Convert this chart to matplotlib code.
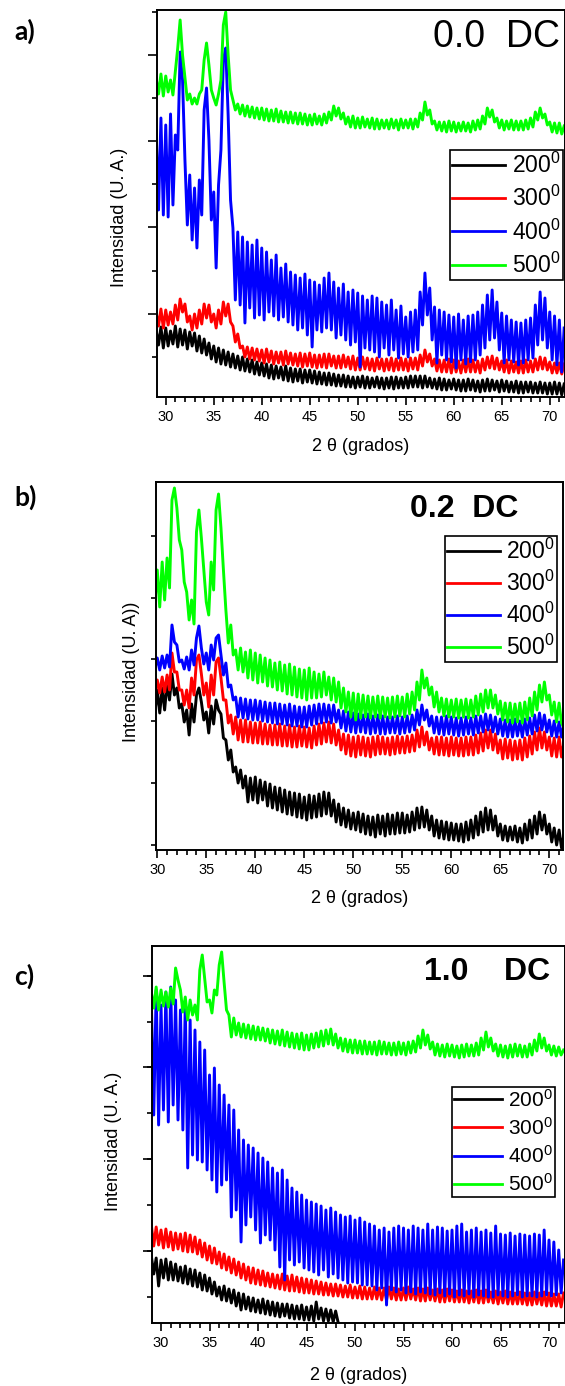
import matplotlib
matplotlib.use('Agg')
import matplotlib.pyplot as plt
from matplotlib.ticker import MultipleLocator

plt.rcParams['font.family'] = ['Liberation Sans', 'DejaVu Sans']
plt.rcParams['mathtext.fontset'] = 'custom'
plt.rcParams['mathtext.rm'] = 'Liberation Sans'
plt.rcParams['mathtext.it'] = 'Liberation Sans:italic'
plt.rcParams['mathtext.bf'] = 'Liberation Sans:bold'

# ---------------- data: 2theta (degrees) and intensity (arbitrary units) ----------------
two_theta = [
    29.0, 29.25, 29.5, 29.75, 30.0, 30.25, 30.5, 30.75, 31.0, 31.25, 31.5, 31.75,
    32.0, 32.25, 32.5, 32.75, 33.0, 33.25, 33.5, 33.75, 34.0, 34.25, 34.5, 34.75,
    35.0, 35.25, 35.5, 35.75, 36.0, 36.25, 36.5, 36.75, 37.0, 37.25, 37.5, 37.75,
    38.0, 38.25, 38.5, 38.75, 39.0, 39.25, 39.5, 39.75, 40.0, 40.25, 40.5, 40.75,
    41.0, 41.25, 41.5, 41.75, 42.0, 42.25, 42.5, 42.75, 43.0, 43.25, 43.5, 43.75,
    44.0, 44.25, 44.5, 44.75, 45.0, 45.25, 45.5, 45.75, 46.0, 46.25, 46.5, 46.75,
    47.0, 47.25, 47.5, 47.75, 48.0, 48.25, 48.5, 48.75, 49.0, 49.25, 49.5, 49.75,
    50.0, 50.25, 50.5, 50.75, 51.0, 51.25, 51.5, 51.75, 52.0, 52.25, 52.5, 52.75,
    53.0, 53.25, 53.5, 53.75, 54.0, 54.25, 54.5, 54.75, 55.0, 55.25, 55.5, 55.75,
    56.0, 56.25, 56.5, 56.75, 57.0, 57.25, 57.5, 57.75, 58.0, 58.25, 58.5, 58.75,
    59.0, 59.25, 59.5, 59.75, 60.0, 60.25, 60.5, 60.75, 61.0, 61.25, 61.5, 61.75,
    62.0, 62.25, 62.5, 62.75, 63.0, 63.25, 63.5, 63.75, 64.0, 64.25, 64.5, 64.75,
    65.0, 65.25, 65.5, 65.75, 66.0, 66.25, 66.5, 66.75, 67.0, 67.25, 67.5, 67.75,
    68.0, 68.25, 68.5, 68.75, 69.0, 69.25, 69.5, 69.75, 70.0, 70.25, 70.5, 70.75,
    71.0, 71.25, 71.5]

temperatures = ['200', '300', '400', '500']
series_colors = ['#000000', '#ff0000', '#0000ff', '#00ff00']

# ---- panel a) 0.0 DC ----
a_200 = [70, 55, 73, 52, 72, 54, 69, 56, 74, 53, 71, 55, 70, 51, 68, 54,
         67, 49, 64, 47, 61, 45, 57, 41, 54, 38, 52, 36, 50, 35, 48, 33,
         46, 32, 44, 30, 43, 29, 41, 28, 40, 26, 38, 25, 37, 24, 36, 22,
         35, 21, 34, 22, 33, 20, 34, 19, 32, 18, 31, 19, 31, 17, 30, 18,
         30, 17, 29, 16, 28, 16, 27, 15, 27, 15, 26, 14, 25, 14, 25, 13,
         24, 13, 23, 12, 23, 13, 24, 12, 23, 12, 22, 13, 23, 12, 22, 11,
         22, 12, 23, 11, 23, 12, 22, 12, 23, 12, 24, 13, 24, 13, 24, 12,
         24, 13, 22, 12, 21, 11, 22, 10, 21, 10, 20, 11, 21, 10, 20, 9,
         20, 9, 21, 10, 20, 9, 19, 8, 20, 9, 21, 9, 20, 10, 19, 8,
         20, 9, 19, 8, 18, 8, 19, 7, 18, 7, 18, 8, 18, 7, 17, 7,
         18, 7, 17, 6, 17, 6, 18, 6, 17, 5, 16]
a_300 = [88, 74, 91, 72, 90, 75, 88, 76, 95, 80, 101, 88, 96, 78, 84, 70,
         86, 72, 90, 76, 96, 82, 95, 78, 86, 72, 90, 76, 98, 84, 96, 78,
         74, 58, 66, 52, 54, 43, 53, 41, 52, 40, 51, 39, 50, 37, 51, 38,
         49, 36, 48, 37, 48, 35, 49, 36, 47, 35, 46, 34, 47, 33, 46, 34,
         47, 33, 45, 32, 45, 33, 46, 32, 46, 34, 44, 32, 44, 32, 45, 33,
         43, 31, 44, 30, 42, 30, 43, 31, 42, 30, 41, 29, 42, 31, 41, 29,
         41, 30, 42, 29, 41, 30, 42, 30, 41, 29, 42, 31, 42, 30, 45, 34,
         50, 38, 46, 34, 41, 29, 40, 28, 40, 28, 41, 27, 40, 28, 39, 27,
         40, 28, 41, 28, 40, 28, 39, 27, 41, 30, 43, 32, 44, 31, 42, 30,
         39, 28, 40, 27, 39, 28, 38, 27, 39, 27, 40, 28, 39, 28, 41, 30,
         43, 31, 42, 30, 38, 27, 37, 27, 37, 26, 36]
a_400 = [270, 190, 282, 185, 275, 183, 286, 195, 265, 250, 348, 320, 240, 175, 225, 160,
         212, 152, 220, 185, 290, 312, 260, 180, 208, 132, 215, 250, 340, 352, 285, 200,
         172, 100, 168, 95, 163, 77, 158, 92, 155, 82, 160, 85, 152, 80, 148, 88,
         140, 84, 145, 80, 132, 83, 136, 78, 128, 75, 125, 70, 122, 72, 126, 65,
         120, 53, 118, 70, 115, 68, 122, 72, 127, 70, 118, 62, 112, 65, 116, 60,
         108, 55, 110, 58, 107, 33, 104, 52, 100, 50, 104, 48, 102, 43, 98, 52,
         95, 45, 100, 50, 90, 42, 94, 46, 83, 43, 88, 48, 90, 50, 108, 75,
         127, 85, 112, 60, 93, 37, 90, 45, 88, 40, 85, 38, 83, 32, 86, 40,
         80, 36, 84, 38, 85, 40, 88, 45, 95, 52, 105, 60, 110, 62, 98, 50,
         87, 37, 84, 40, 80, 38, 78, 35, 77, 37, 80, 40, 82, 42, 95, 55,
         108, 60, 102, 52, 88, 40, 84, 35, 80, 28, 72]
a_500 = [322, 306, 326, 304, 324, 308, 320, 305, 328, 352, 380, 345, 322, 300, 306, 296,
         302, 296, 306, 310, 340, 357, 335, 310, 302, 295, 306, 320, 375, 388, 345, 310,
         300, 290, 296, 286, 295, 284, 294, 283, 293, 282, 292, 281, 292, 280, 291, 279,
         290, 279, 291, 278, 289, 278, 288, 277, 288, 277, 287, 276, 287, 276, 286, 275,
         285, 275, 286, 276, 284, 275, 286, 277, 288, 280, 294, 284, 292, 281, 287, 276,
         283, 273, 284, 272, 282, 272, 283, 273, 281, 272, 282, 271, 281, 271, 280, 272,
         280, 271, 281, 272, 280, 270, 281, 272, 280, 272, 281, 271, 281, 273, 287, 280,
         298, 285, 290, 276, 279, 270, 278, 269, 278, 268, 279, 269, 278, 268, 277, 269,
         278, 269, 277, 268, 279, 270, 280, 271, 284, 276, 292, 283, 290, 278, 282, 272,
         280, 270, 279, 271, 280, 270, 279, 270, 279, 270, 280, 271, 282, 273, 288, 280,
         292, 282, 286, 275, 278, 268, 277, 267, 277, 266, 274]

# ---- panel b) 0.2 DC ----
b_200 = [208, 188, 210, 186, 210, 187, 212, 190, 217, 200, 226, 205, 212, 192, 196, 178,
         190, 165, 196, 178, 205, 212, 198, 180, 188, 167, 194, 176, 200, 190, 186, 162,
         160, 140, 150, 128, 133, 117, 130, 112, 124, 98, 122, 100, 123, 97, 120, 100,
         118, 94, 116, 92, 113, 90, 112, 88, 110, 86, 108, 85, 107, 83, 106, 82,
         103, 80, 105, 82, 104, 83, 106, 84, 108, 86, 107, 84, 100, 78, 96, 75,
         92, 73, 90, 71, 87, 70, 88, 68, 86, 66, 84, 65, 83, 63, 85, 66,
         84, 64, 86, 66, 85, 66, 87, 67, 87, 67, 85, 68, 88, 70, 92, 72,
         93, 73, 90, 70, 84, 64, 80, 62, 79, 61, 78, 60, 77, 60, 76, 59,
         76, 58, 78, 60, 80, 62, 84, 65, 88, 68, 92, 70, 90, 70, 84, 64,
         76, 60, 74, 59, 73, 60, 74, 58, 72, 57, 76, 60, 80, 62, 84, 66,
         88, 70, 85, 66, 76, 58, 72, 55, 70, 52, 66]
b_300 = [220, 207, 222, 206, 220, 207, 223, 208, 225, 210, 247, 228, 228, 210, 210, 195,
         210, 192, 222, 205, 240, 245, 226, 205, 217, 193, 225, 205, 238, 242, 222, 200,
         200, 177, 185, 166, 183, 160, 180, 158, 180, 158, 178, 157, 177, 157, 178, 156,
         176, 156, 175, 155, 175, 155, 176, 154, 174, 154, 175, 153, 173, 153, 174, 154,
         173, 153, 172, 152, 174, 155, 176, 156, 177, 158, 178, 157, 176, 155, 170, 150,
         166, 146, 165, 144, 163, 143, 164, 145, 163, 144, 162, 143, 163, 145, 164, 146,
         163, 146, 162, 145, 163, 146, 164, 147, 163, 147, 164, 148, 165, 149, 170, 153,
         173, 155, 168, 150, 162, 146, 163, 145, 163, 145, 162, 144, 163, 145, 162, 144,
         162, 144, 163, 145, 163, 145, 165, 147, 167, 149, 170, 152, 170, 150, 166, 147,
         160, 141, 161, 142, 160, 140, 159, 141, 160, 140, 162, 143, 164, 146, 168, 150,
         172, 152, 168, 150, 163, 144, 162, 143, 163, 143, 158]
b_400 = [240, 229, 243, 231, 242, 230, 244, 232, 245, 233, 275, 258, 255, 238, 240, 231,
         243, 230, 250, 235, 262, 274, 252, 236, 247, 230, 255, 240, 262, 265, 245, 225,
         237, 213, 215, 200, 203, 183, 202, 182, 201, 181, 200, 180, 200, 180, 199, 179,
         198, 178, 197, 177, 197, 176, 196, 176, 195, 175, 196, 174, 194, 174, 193, 173,
         193, 173, 194, 175, 195, 176, 196, 177, 196, 178, 195, 177, 195, 178, 190, 172,
         189, 169, 188, 168, 187, 167, 186, 168, 185, 167, 186, 166, 184, 167, 185, 166,
         184, 166, 183, 167, 183, 167, 184, 166, 183, 167, 184, 168, 185, 170, 190, 175,
         195, 180, 190, 174, 184, 167, 183, 166, 183, 165, 184, 166, 183, 165, 182, 164,
         182, 165, 183, 166, 182, 165, 184, 167, 184, 168, 186, 170, 185, 168, 183, 166,
         181, 164, 180, 163, 180, 163, 181, 164, 179, 163, 181, 165, 182, 166, 185, 169,
         187, 170, 185, 168, 180, 164, 179, 163, 178, 163, 176]
b_500 = [325, 298, 330, 295, 330, 293, 338, 300, 342, 312, 400, 412, 392, 360, 350, 318,
         308, 280, 300, 276, 368, 390, 362, 330, 298, 285, 338, 310, 390, 406, 372, 330,
         290, 257, 275, 245, 250, 230, 252, 228, 248, 222, 250, 220, 247, 217, 245, 218,
         242, 214, 240, 213, 237, 210, 238, 209, 235, 206, 236, 205, 233, 203, 231, 202,
         230, 200, 232, 202, 228, 202, 226, 203, 228, 205, 223, 200, 222, 198, 218, 192,
         212, 188, 208, 183, 207, 180, 206, 182, 205, 183, 204, 182, 203, 183, 204, 182,
         203, 183, 202, 182, 203, 183, 204, 184, 203, 183, 206, 186, 208, 190, 218, 200,
         230, 212, 222, 205, 213, 193, 208, 188, 202, 184, 201, 183, 200, 183, 201, 182,
         200, 183, 201, 182, 200, 183, 204, 185, 206, 188, 210, 192, 210, 192, 205, 186,
         199, 180, 197, 178, 197, 177, 196, 178, 197, 177, 198, 180, 202, 184, 208, 190,
         215, 198, 218, 200, 205, 185, 198, 178, 197, 177, 172]

# ---- panel c) 1.0 DC  (200 series recorded only up to ~48 degrees) ----
c_200 = [74, 56, 72, 44, 70, 52, 71, 50, 68, 50, 66, 49, 63, 47, 64, 46,
         61, 44, 60, 43, 57, 40, 55, 39, 52, 36, 48, 34, 43, 30, 44, 29,
         41, 27, 40, 24, 37, 20, 36, 21, 33, 19, 32, 18, 30, 17, 31, 16,
         29, 15, 28, 14, 27, 13, 26, 14, 26, 12, 25, 11, 24, 11, 25, 10,
         23, 10, 24, 9, 28, 11, 22, 9, 21, 9, 20, 8, 19, 8]
c_300 = [105, 84, 103, 85, 100, 82, 101, 83, 98, 80, 97, 81, 96, 79, 97, 78,
         95, 78, 93, 76, 90, 73, 87, 70, 84, 67, 82, 66, 78, 62, 76, 60,
         73, 57, 71, 55, 68, 52, 66, 50, 63, 47, 62, 46, 60, 45, 59, 44,
         57, 43, 56, 42, 55, 41, 56, 40, 54, 39, 55, 39, 53, 38, 52, 37,
         51, 37, 50, 36, 49, 36, 48, 35, 47, 35, 46, 34, 46, 34, 45, 33,
         44, 33, 45, 32, 43, 32, 44, 31, 43, 31, 42, 31, 43, 31, 42, 30,
         42, 30, 43, 31, 42, 30, 41, 30, 42, 30, 43, 31, 41, 30, 42, 29,
         41, 29, 42, 30, 40, 29, 41, 28, 40, 28, 41, 29, 40, 28, 39, 28,
         40, 28, 39, 27, 39, 28, 40, 27, 39, 27, 40, 28, 38, 27, 39, 26,
         38, 27, 39, 26, 38, 26, 37, 26, 38, 26, 37, 25, 37, 25, 38, 26,
         37, 25, 38, 24, 37, 24, 36, 24, 36, 23, 37]
c_400 = [330, 215, 340, 205, 325, 220, 338, 208, 343, 225, 330, 210, 320, 200, 325, 162,
         310, 175, 300, 170, 288, 168, 280, 160, 255, 150, 262, 138, 245, 145, 235, 150,
         225, 113, 220, 120, 200, 88, 190, 105, 185, 113, 182, 100, 177, 87, 172, 95,
         168, 90, 162, 80, 157, 63, 160, 50, 150, 70, 142, 65, 138, 68, 135, 62,
         130, 60, 128, 58, 126, 55, 124, 60, 120, 53, 122, 56, 118, 52, 115, 50,
         113, 47, 114, 48, 110, 47, 112, 45, 108, 45, 106, 44, 104, 40, 100, 42,
         102, 25, 98, 40, 102, 38, 104, 40, 102, 37, 100, 38, 104, 36, 102, 38,
         100, 37, 106, 36, 100, 35, 103, 37, 102, 34, 99, 36, 100, 33, 104, 35,
         106, 34, 98, 36, 100, 33, 102, 35, 98, 34, 100, 33, 97, 33, 104, 35,
         96, 34, 95, 33, 97, 34, 94, 35, 96, 33, 95, 34, 94, 34, 96, 33,
         95, 34, 100, 35, 90, 34, 88, 35, 80, 37, 70]
c_500 = [338, 322, 343, 320, 340, 324, 338, 323, 342, 326, 362, 350, 340, 318, 333, 310,
         330, 315, 325, 310, 360, 375, 352, 328, 330, 317, 340, 335, 365, 378, 348, 320,
         315, 293, 312, 295, 307, 293, 306, 292, 305, 291, 304, 290, 303, 290, 302, 289,
         301, 287, 300, 286, 299, 285, 300, 284, 298, 283, 297, 282, 296, 281, 297, 280,
         295, 280, 296, 282, 297, 283, 299, 284, 300, 286, 301, 285, 296, 282, 292, 279,
         291, 278, 290, 277, 290, 277, 289, 276, 289, 276, 288, 276, 288, 275, 289, 276,
         288, 276, 287, 275, 287, 275, 288, 276, 287, 275, 288, 277, 289, 278, 294, 282,
         300, 285, 295, 281, 288, 275, 286, 274, 285, 273, 286, 274, 285, 273, 284, 272,
         285, 273, 286, 274, 285, 274, 287, 275, 292, 280, 298, 283, 292, 279, 286, 274,
         285, 273, 284, 272, 285, 273, 286, 274, 285, 273, 284, 273, 286, 275, 290, 279,
         296, 282, 292, 279, 285, 275, 284, 274, 283, 275, 280]

# ---------------- figure ----------------
W, H = 565, 1386
fig = plt.figure(figsize=(W / 100, H / 100), dpi=100)


def frac(left, top, right, bottom):
    return [left / W, 1 - bottom / H, (right - left) / W, (bottom - top) / H]


panels = [
    dict(rect=frac(157, 10, 565, 397), series=[a_200, a_300, a_400, a_500],
         xlim=(29.09, 71.59), ylim=(3, 390), ymaj=(86.3, 0), ymin=(43.15, 0), ylong=True,
         ylabel='Intensidad (U. A.)', ylab_xy=(-0.091, 0.465), xlab_y=-0.127,
         leg_anchor=(0.995, 0.637), leg_fs=16.5, leg_sp=0.35,
         tag='a)', tag_y=31, title='0.0  DC', title_xy=(560, 46.7), title_bold=False, title_fs=27),
    dict(rect=frac(156, 482, 563.3, 850), series=[b_200, b_300, b_400, b_500],
         xlim=(29.87, 71.43), ylim=(50, 418), ymaj=(61.8, 55.3), ymin=None, ylong=False,
         ylabel='Intensidad (U. A))', ylab_xy=(-0.059, 0.4845), xlab_y=-0.133,
         leg_anchor=(0.9853, 0.852), leg_fs=16.5, leg_sp=0.3,
         tag='b)', tag_y=497, title='0.2  DC', title_xy=(518, 516.7), title_bold=True, title_fs=23),
    dict(rect=frac(152.3, 945.7, 565, 1323.3), series=[c_200, c_300, c_400, c_500],
         xlim=(29.10, 71.65), ylim=(6.7, 384.3), ymaj=(91.62, 79.3), ymin=(45.81, 33.5), ylong=True,
         ylabel='Intensidad (U. A.)', ylab_xy=(-0.095, 0.483), xlab_y=-0.137,
         leg_anchor=(0.9758, 0.627), leg_fs=15, leg_sp=0.3,
         tag='c)', tag_y=976, title='1.0    DC', title_xy=(550, 980), title_bold=True, title_fs=23),
]

for p in panels:
    ax = fig.add_axes(p['rect'])
    for temp, col, ys in zip(temperatures, series_colors, p['series']):
        ax.plot(two_theta[:len(ys)], ys, color=col, lw=2.1, label=temp + '$^0$')
    ax.set_xlim(*p['xlim'])
    ax.set_ylim(*p['ylim'])
    ax.xaxis.set_major_locator(MultipleLocator(5))
    ax.xaxis.set_minor_locator(MultipleLocator(1))
    ax.yaxis.set_major_locator(MultipleLocator(p['ymaj'][0], offset=p['ymaj'][1]))
    if p['ymin'] is not None:
        ax.yaxis.set_minor_locator(MultipleLocator(p['ymin'][0], offset=p['ymin'][1]))
    ax.tick_params(axis='both', which='both', direction='out', width=1.2, top=False, right=False)
    ax.tick_params(axis='x', which='major', length=6, labelsize=10.5, pad=3)
    ax.tick_params(axis='x', which='minor', length=3.3)
    ax.tick_params(axis='y', which='major', length=6.5 if p['ylong'] else 3.3, labelleft=False)
    ax.tick_params(axis='y', which='minor', length=3.3)
    for s in ax.spines.values():
        s.set_linewidth(1.4)

    ax.set_xlabel('2 θ (grados)', fontsize=13)
    ax.xaxis.set_label_coords(0.5, p['xlab_y'])
    ax.xaxis.label.set_verticalalignment('center')
    ax.set_ylabel(p['ylabel'], fontsize=13)
    ax.yaxis.set_label_coords(*p['ylab_xy'])
    ax.yaxis.label.set_verticalalignment('center')

    leg = ax.legend(loc='upper right', bbox_to_anchor=p['leg_anchor'], borderaxespad=0,
                    fontsize=p['leg_fs'], handlelength=2.3, handletextpad=0.3,
                    labelspacing=p['leg_sp'], borderpad=0.1, fancybox=False,
                    edgecolor='black', framealpha=1)
    leg.get_frame().set_linewidth(1.2)
    for ln in leg.get_lines():
        ln.set_linewidth(2.0)

    fig.text(14 / W, 1 - p['tag_y'] / H, p['tag'], ha='left', va='center',
             fontsize=19, fontweight='bold', family=['Lato', 'DejaVu Sans'])
    tx, ty = p['title_xy']
    fig.text(tx / W, 1 - ty / H, p['title'], ha='right', va='baseline',
             fontsize=p['title_fs'], fontweight='bold' if p['title_bold'] else 'normal')

fig.savefig('out.png', dpi=100)
